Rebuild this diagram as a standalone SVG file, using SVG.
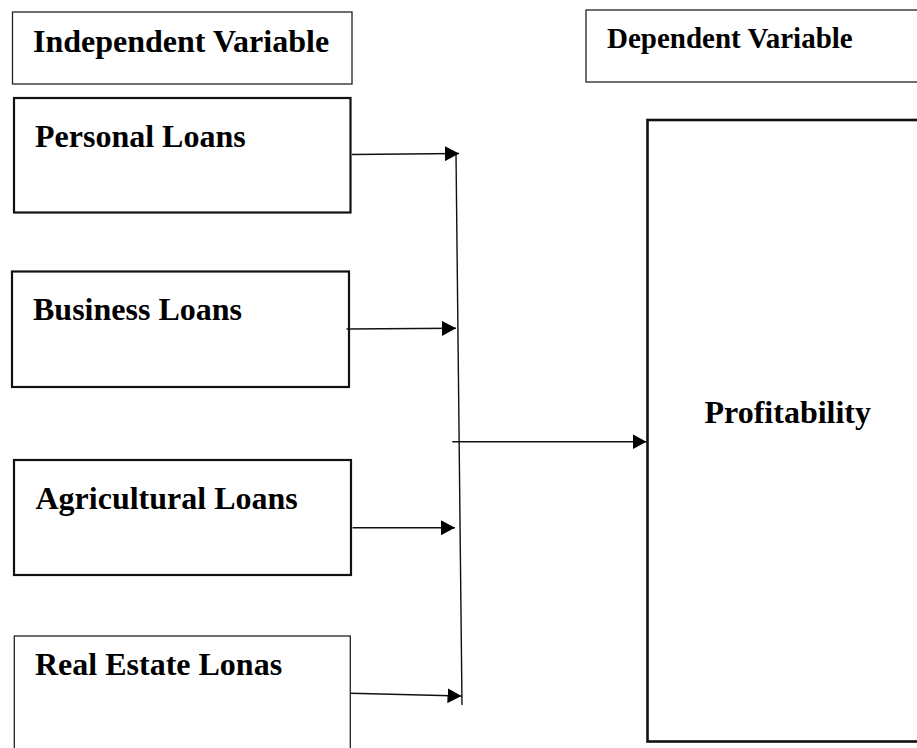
<svg xmlns="http://www.w3.org/2000/svg" width="917" height="748" viewBox="0 0 917 748">
<style>
text{font-family:"Liberation Serif","Times New Roman",serif;font-weight:bold;fill:#000;font-size:32px}
.thin{fill:#fff;stroke:#222;stroke-width:1.3}
.thick{fill:#fff;stroke:#111;stroke-width:2.2}
.conn{stroke:#111;stroke-width:1.4;fill:none}
</style>
<defs>
<marker id="ah" markerWidth="14" markerHeight="15" refX="14" refY="7.5" orient="auto" markerUnits="userSpaceOnUse">
<path d="M0,0 L14,7.5 L0,15 Z" fill="#000"/>
</marker>
</defs>
<rect width="917" height="748" fill="#fff"/>
<g id="independent">
<rect class="thin" x="12.5" y="12" width="339.5" height="72"/>
<text x="33" y="52">Independent Variable</text>
</g>
<g id="dependent">
<rect class="thin" x="586" y="10" width="340" height="72"/>
<text x="607" y="48" style="font-size:29px">Dependent Variable</text>
</g>
<g id="personal">
<rect class="thick" x="14" y="98" width="336.5" height="114.5"/>
<text x="35" y="146.5">Personal Loans</text>
</g>
<g id="business">
<rect class="thick" x="12" y="271.5" width="337" height="115.5"/>
<text x="33" y="320">Business Loans</text>
</g>
<g id="agricultural">
<rect class="thick" x="14" y="460" width="337" height="115"/>
<text x="35.5" y="509">Agricultural Loans</text>
</g>
<g id="realestate">
<rect class="thin" x="14.3" y="636" width="336" height="130"/>
<text x="35" y="675">Real Estate Lonas</text>
</g>
<g id="profitability">
<rect x="647.5" y="120" width="290" height="621.5" fill="#fff" stroke="#111" stroke-width="2.6"/>
<text x="704.5" y="422.5">Profitability</text>
</g>
<g id="connectors">
<line class="conn" x1="456" y1="153" x2="462" y2="705"/>
<line class="conn" x1="352" y1="154.5" x2="459" y2="153.5" marker-end="url(#ah)"/>
<line class="conn" x1="346.5" y1="329" x2="456" y2="328.3" marker-end="url(#ah)"/>
<line class="conn" x1="352.5" y1="527.7" x2="455" y2="527.7" marker-end="url(#ah)"/>
<line class="conn" x1="350.5" y1="693.3" x2="461.5" y2="696" marker-end="url(#ah)"/>
<line class="conn" x1="452.3" y1="441.7" x2="646.5" y2="441.7" marker-end="url(#ah)"/>
</g>
</svg>
